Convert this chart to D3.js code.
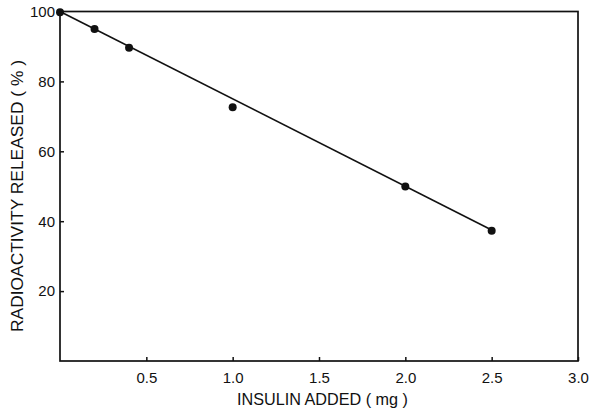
<!DOCTYPE html>
<html><head><meta charset="utf-8">
<script src="https://cdn.jsdelivr.net/npm/d3@7"></script>
<style>body{margin:0;background:#fff}svg{display:block}text{font-family:"Liberation Sans",Arial,sans-serif;fill:#111}</style>
</head><body>
<svg id="c" width="592" height="415"></svg>
<script>
const insulinX = [0, 0.2, 0.4, 1.0, 2.0, 2.5];
const releasedY = [99.8, 95, 89.6, 72.6, 49.9, 37.3];
const fitX = [0, 2.5];
const fitY = [100, 37.5];
const xTicks = [0.5, 1.0, 1.5, 2.0, 2.5, 3.0];
const yTicks = [20, 40, 60, 80, 100];
const xLabel = "INSULIN ADDED ( mg )";
const yLabel = "RADIOACTIVITY  RELEASED ( % )";

const svg = d3.select("#c");
const L = 60, R = 578, T = 11.5, B = 361;
const x = d3.scaleLinear().domain([0, 3]).range([L, R]);
const y = d3.scaleLinear().domain([0, 100]).range([B, T]);

// frame
svg.append("rect").attr("x", L).attr("y", T).attr("width", R - L).attr("height", B - T)
  .attr("fill", "none").attr("stroke", "#111").attr("stroke-width", 1.7);

const xa = svg.append("g").attr("transform", `translate(0,${B})`)
  .call(d3.axisBottom(x).tickValues(xTicks).tickSizeInner(-4).tickSizeOuter(0).tickPadding(11).tickFormat(d3.format(".1f")));
xa.select(".domain").remove();
xa.selectAll("line").attr("stroke", "#111").attr("stroke-width", 1.5);
xa.selectAll("text").attr("font-size", 15).attr("fill", "#111");

const ya = svg.append("g").attr("transform", `translate(${L},0)`)
  .call(d3.axisLeft(y).tickValues(yTicks).tickSizeInner(-4).tickSizeOuter(0).tickPadding(5).tickFormat(d3.format("d")));
ya.select(".domain").remove();
ya.selectAll("line").attr("stroke", "#111").attr("stroke-width", 1.5);
ya.selectAll("text").attr("font-size", 15).attr("fill", "#111");

// fit line
svg.append("path").datum(fitX.map((d, i) => [d, fitY[i]]))
  .attr("d", d3.line().x(d => x(d[0])).y(d => y(d[1])))
  .attr("fill", "none").attr("stroke", "#111").attr("stroke-width", 1.6);

// points
svg.selectAll("circle.pt").data(insulinX.map((d, i) => [d, releasedY[i]])).join("circle")
  .attr("class", "pt").attr("cx", d => x(d[0])).attr("cy", d => y(d[1])).attr("r", 4).attr("fill", "#111");

svg.append("text").attr("x", 237).attr("y", 405)
  .attr("font-size", 17).attr("textLength", 171).attr("lengthAdjust", "spacingAndGlyphs").text(xLabel);
svg.append("text").attr("transform", `translate(23,332) rotate(-90)`)
  .attr("font-size", 17).attr("textLength", 272).attr("lengthAdjust", "spacingAndGlyphs").text(yLabel);
</script>
</body></html>
